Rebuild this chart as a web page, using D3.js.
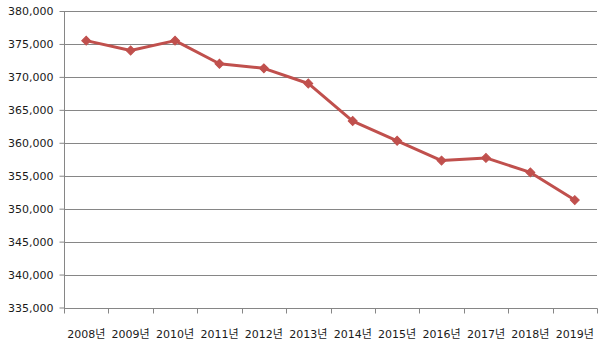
<!DOCTYPE html>
<html>
<head>
<meta charset="utf-8">
<script src="https://cdn.jsdelivr.net/npm/d3@7"></script>
<style>
  body { margin: 0; background: #fff; }
  text { font-family: "DejaVu Sans", "Noto Sans CJK KR", sans-serif; font-size: 11px; fill: #1a1a1a; }
</style>
</head>
<body>
<svg id="chart" width="606" height="345"></svg>
<script>
// years on the x axis
let years = ['2008년', '2009년', '2010년', '2011년', '2012년', '2013년',
             '2014년', '2015년', '2016년', '2017년', '2018년', '2019년'];
// values
let values = [375500, 374000, 375500, 372000, 371300, 369000,
              363300, 360300, 357300, 357700, 355500, 351300];
let y_ticks = [335000, 340000, 345000, 350000, 355000, 360000,
               365000, 370000, 375000, 380000];

let svg = d3.select('#chart');

let plot_left = 64, plot_right = 597, plot_top = 11, plot_bottom = 307.5;
let grid_color = '#868686';
let line_color = '#C0504D';

let x = d3.scaleBand().domain(years).range([plot_left, plot_right]);
let y = d3.scaleLinear().domain([335000, 380000]).range([plot_bottom, plot_top]);

/*
 * Grid lines.
 */
svg.append('g')
  .selectAll('line')
  .data(y_ticks.slice(1))
  .join('line')
  .attr('x1', plot_left)
  .attr('x2', plot_right)
  .attr('y1', d => Math.round(y(d)) + 0.5)
  .attr('y2', d => Math.round(y(d)) + 0.5)
  .style('stroke', grid_color)
  .style('stroke-width', 1);

/*
 * Axes.
 */
let fmt = d3.format(',');

let y_axis = svg.append('g')
  .attr('transform', `translate(${plot_left + 0.5},0)`)
  .call(d3.axisLeft(y).tickValues(y_ticks).tickFormat(fmt).tickSize(5).tickPadding(6));

let x_axis = svg.append('g')
  .attr('transform', `translate(0,${Math.round(plot_bottom) + 0.5})`)
  .call(d3.axisBottom(x).tickSize(0).tickPadding(22));

// tick marks sit on band edges
let edges = years.map(d => x(d)).concat([plot_right]);
x_axis.selectAll('.edge')
  .data(edges)
  .join('line')
  .attr('class', 'edge')
  .attr('x1', d => Math.round(d) + 0.5)
  .attr('x2', d => Math.round(d) + 0.5)
  .attr('y1', 0)
  .attr('y2', 5);

[y_axis, x_axis].forEach(a => {
  a.selectAll('path.domain').style('stroke', grid_color);
  a.selectAll('line').style('stroke', grid_color);
  a.selectAll('text').attr('fill', '#1a1a1a');
  a.attr('font-family', null).attr('font-size', null);
});
y_axis.select('path.domain').attr('d', `M0,${plot_top}V${Math.round(plot_bottom) + 0.5}`);
x_axis.select('path.domain').attr('d', `M${plot_left},0H${plot_right + 0.5}`);

/*
 * Series line and diamond markers.
 */
let cx = d => x(d) + x.bandwidth() / 2;

svg.append('path')
  .datum(values)
  .attr('d', d3.line().x((d, i) => cx(years[i])).y(d => y(d)))
  .style('fill', 'none')
  .style('stroke', line_color)
  .style('stroke-width', 3)
  .style('stroke-linejoin', 'round');

svg.append('g')
  .selectAll('path')
  .data(values)
  .join('path')
  .attr('d', d3.symbol(d3.symbolSquare, 40))
  .attr('transform', (d, i) => `translate(${cx(years[i])},${y(d)}) rotate(45)`)
  .style('fill', line_color)
  .style('stroke', line_color)
  .style('stroke-width', 1);
</script>
</body>
</html>
